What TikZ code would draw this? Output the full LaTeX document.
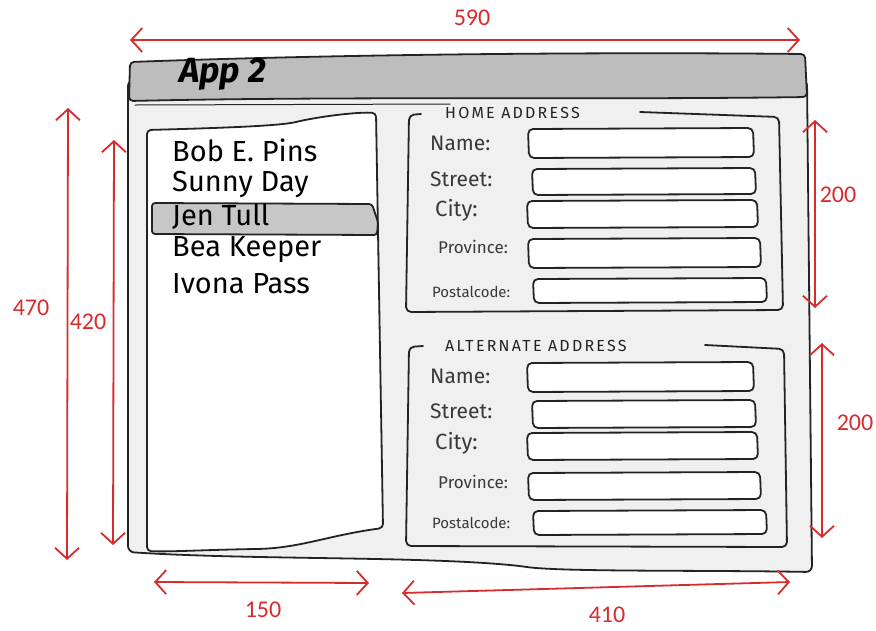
\documentclass[tikz,border=0pt]{standalone}
\usepackage{fontspec}
\setmainfont{Fira Sans}
\newfontfamily\numfont{Carlito}
\newfontfamily\widefont[LetterSpace=14]{Fira Sans}
\usetikzlibrary{arrows.meta}
\definecolor{dimred}{RGB}{214,44,44}
\definecolor{winbg}{RGB}{240,240,240}
\definecolor{barbg}{RGB}{189,189,189}
\definecolor{inkc}{RGB}{35,35,35}
\tikzset{
  sketch/.style={draw=inkc, line width=1.8pt, line join=round, line cap=round},
  fieldbox/.style={sketch, fill=white, rounded corners=5pt},
  dim/.style={draw=dimred, line width=1.8pt,
    {Straight Barb[length=11pt,width=24pt,line width=1.8pt]}-{Straight Barb[length=11pt,width=24pt,line width=1.8pt]}},
  dimlabel/.style={text=dimred, font=\numfont\fontsize{24}{26}\selectfont, inner sep=1pt},
  itemtext/.style={anchor=west, font=\fontsize{29}{31}\selectfont, text=black, inner sep=0pt},
  fieldlabel/.style={anchor=west, text=inkc!90, inner sep=0pt},
  grouptitle/.style={anchor=west, font=\widefont\fontsize{16}{18}\selectfont, text=inkc, inner sep=0pt},
}
% one hand-drawn text field: left, top, right, bottom
\newcommand{\handfield}[4]{%
  \path[fieldbox] (#1,#2+1) -- (#3-1,#2) -- (#3,#4-1) -- (#1+1,#4) -- cycle;}
\begin{document}
\begin{tikzpicture}[x=1pt,y=-1pt]
\useasboundingbox (0,0) rectangle (876,630);

% window body
\path[sketch, fill=winbg, rounded corners=6pt]
  (128,80) -- (807,80) -- (812,572)
  .. controls (700,570) and (560,572) .. (520,566)
  .. controls (420,556) and (250,560) .. (128,552) -- cycle;
% title bar
\path[sketch, fill=barbg, rounded corners=4pt]
  (130,62) .. controls (350,54) and (600,52) .. (805,54)
  -- (807,97) .. controls (600,100) and (350,96) .. (129,101)
  -- cycle;
\draw[sketch, line width=1pt] (135,105) -- (450,104);
\node[anchor=west, font=\bfseries\itshape\fontsize{35}{37}\selectfont, inner sep=0pt] (apptitle) at (179,74) {App 2};

% list of names
\path[sketch, fill=white, rounded corners=4pt]
  (147,130) .. controls (220,128) and (280,126) .. (300,121)
  .. controls (330,115) and (360,112) .. (376,113)
  -- (383,528) .. controls (330,535) and (300,548) .. (255,549)
  .. controls (200,550) and (170,552) .. (147,551) -- cycle;
\path[sketch, fill=barbg!85, rounded corners=3pt]
  (152,203) -- (372,204) -- (378,222) -- (377,235) -- (152,234) -- cycle;
\node[itemtext] (n1) at (172,150) {Bob E. Pins};
\node[itemtext] (n2) at (172,184) {Sunny Day};
\node[itemtext] (n3) at (172,217) {Jen Tull};
\node[itemtext] (n4) at (172,250) {Bea Keeper};
\node[itemtext] (n5) at (172,284) {Ivona Pass};

% home address group
\draw[sketch, rounded corners=5pt]
  (421,114) -- (409,115) -- (406,312) -- (783,310) -- (779,117) -- (640,112);
\node[grouptitle] (homet) at (445,113) {HOME ADDRESS};
\node[fieldlabel, font=\fontsize{21}{23}\selectfont] (hl1) at (430,143) {Name:};
\node[fieldlabel, font=\fontsize{21}{23}\selectfont] (hl2) at (430,179) {Street:};
\node[fieldlabel, font=\fontsize{22}{24}\selectfont] (hl3) at (435,210) {City:};
\node[fieldlabel, font=\fontsize{17}{19}\selectfont] (hl4) at (438,247) {Province:};
\node[fieldlabel, font=\fontsize{15}{17}\selectfont] (hl5) at (432,292) {Postalcode:};
\handfield{528}{128}{754}{158}
\handfield{532}{168}{756}{195}
\handfield{527}{200}{758}{228}
\handfield{528}{238}{761}{268}
\handfield{533}{278}{767}{303}

% alternate address group
\draw[sketch, rounded corners=5pt]
  (423,346) -- (409,347) -- (406,546) -- (787,547) -- (784,349) -- (705,345);
\node[grouptitle] (altt) at (445,346) {ALTERNATE ADDRESS};
\node[fieldlabel, font=\fontsize{21}{23}\selectfont] (al1) at (430,376) {Name:};
\node[fieldlabel, font=\fontsize{21}{23}\selectfont] (al2) at (430,411) {Street:};
\node[fieldlabel, font=\fontsize{22}{24}\selectfont] (al3) at (435,443) {City:};
\node[fieldlabel, font=\fontsize{17}{19}\selectfont] (al4) at (438,482) {Province:};
\node[fieldlabel, font=\fontsize{15}{17}\selectfont] (al5) at (432,523) {Postalcode:};
\handfield{527}{362}{754}{392}
\handfield{532}{400}{756}{428}
\handfield{527}{432}{758}{460}
\handfield{528}{472}{761}{500}
\handfield{533}{510}{767}{535}

% dimensions
\coordinate (wl) at (130,40);  \coordinate (wr) at (800,40);
\coordinate (ht) at (68,108);  \coordinate (hb) at (67,560);
\coordinate (lt) at (114,140); \coordinate (lb) at (113,545);
\coordinate (g1t) at (815,120); \coordinate (g1b) at (815,308);
\coordinate (g2t) at (822,343); \coordinate (g2b) at (822,538);
\coordinate (ll) at (154,582); \coordinate (lr) at (369,583);
\coordinate (rl) at (402,593); \coordinate (rr) at (790,582);
\draw[dim] (wl) -- (wr);
\draw[dim] (ht) -- (hb);
\draw[dim] (lt) -- (lb);
\draw[dim] (g1t) -- (g1b);
\draw[dim] (g2t) -- (g2b);
\draw[dim] (ll) -- (lr);
\draw[dim] (rl) -- (rr);
\node[dimlabel] (d590) at (472,18) {590};
\node[dimlabel] (d470) at (31,308) {470};
\node[dimlabel] (d420) at (88,322) {420};
\node[dimlabel] (d200a) at (838,195) {200};
\node[dimlabel] (d200b) at (855,423) {200};
\node[dimlabel] (d150) at (263,610) {150};
\node[dimlabel] (d410) at (607,615) {410};
\end{tikzpicture}
\end{document}
